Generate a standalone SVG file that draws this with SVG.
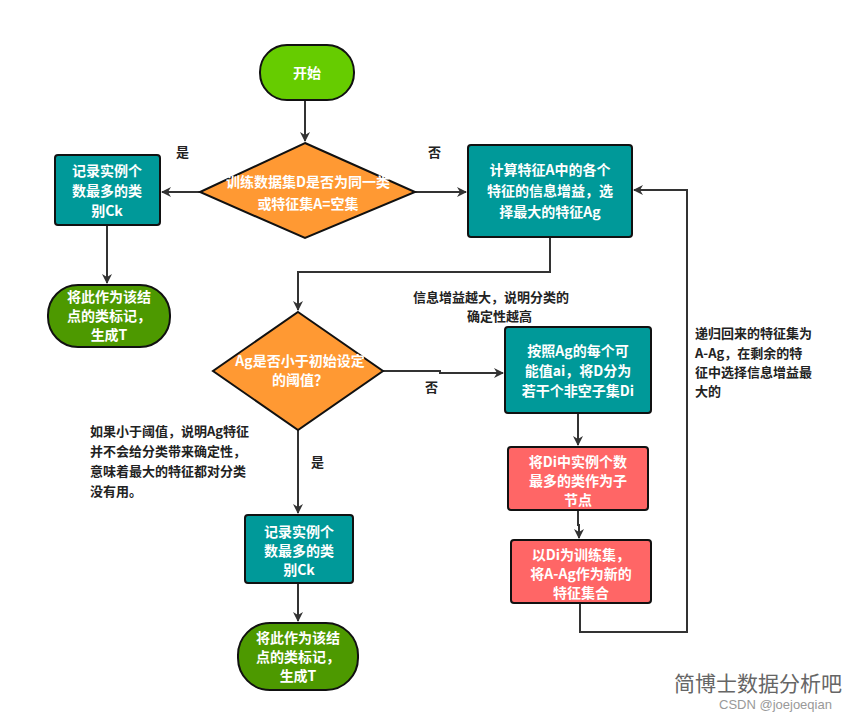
<svg xmlns="http://www.w3.org/2000/svg" width="868" height="720" viewBox="0 0 868 720">
<defs>
<marker id="ar" markerWidth="10" markerHeight="10" refX="9" refY="5" orient="auto" markerUnits="userSpaceOnUse"><path d="M0,0 L10,5 L0,10 L3,5 Z" fill="#333"/></marker>
<style>
.n{stroke:#111;stroke-width:2}
.t{fill:#fff;font-family:"Noto Sans CJK SC","Liberation Sans",sans-serif;font-weight:bold;font-size:14px;text-anchor:middle}
.l{fill:#222;font-family:"Noto Sans CJK SC","Liberation Sans",sans-serif;font-weight:bold;font-size:13px}
.c{fill:none;stroke:#333;stroke-width:2}
</style>
</defs>
<rect width="868" height="720" fill="#fff"/>
<g id="connectors">
<path class="c" d="M305,100 V141" marker-end="url(#ar)"/>
<path class="c" d="M200,192 H162" marker-end="url(#ar)"/>
<path class="c" d="M415,192 H466" marker-end="url(#ar)"/>
<path class="c" d="M107,225 V283" marker-end="url(#ar)"/>
<path class="c" d="M550,237 V272 H298 V310" marker-end="url(#ar)"/>
<path class="c" d="M383,371 H440 V373 H503" marker-end="url(#ar)"/>
<path class="c" d="M578,413 V445" marker-end="url(#ar)"/>
<path class="c" d="M578,510 V525 H579 V538" marker-end="url(#ar)"/>
<path class="c" d="M580,603 V632 H687 V190 H634" marker-end="url(#ar)"/>
<path class="c" d="M298,430 V513" marker-end="url(#ar)"/>
<path class="c" d="M298,583 V621" marker-end="url(#ar)"/>
</g>
<g id="start"><rect class="n" x="260" y="45" width="94" height="55" rx="27" fill="#66cc00"/><text class="t" x="307" y="78">开始</text></g>
<g id="d1"><polygon class="n" points="305,143 415,192 305,238 200,192" fill="#ff9933"/><text class="t" x="308" y="187" font-size="13.5">训练数据集D是否为同一类</text><text class="t" x="308" y="209">或特征集A=空集</text></g>
<g id="b1"><rect class="n" x="55" y="155" width="105" height="70" rx="3" fill="#009999"/><text class="t" x="107" y="176">记录实例个</text><text class="t" x="107" y="196">数最多的类</text><text class="t" x="107" y="216">别Ck</text></g>
<g id="b2"><rect class="n" x="468" y="145" width="164" height="92" rx="3" fill="#009999"/><text class="t" x="550" y="175">计算特征A中的各个</text><text class="t" x="550" y="196">特征的信息增益，选</text><text class="t" x="550" y="217">择最大的特征Ag</text></g>
<g id="e1"><rect class="n" x="48" y="285" width="122" height="62" rx="30" fill="#4d9900"/><text class="t" x="109" y="302">将此作为该结</text><text class="t" x="109" y="321">点的类标记，</text><text class="t" x="109" y="340">生成T</text></g>
<g id="d2"><polygon class="n" points="298,312 383,371 298,430 213,371" fill="#ff9933"/><text class="t" x="300" y="366">Ag是否小于初始设定</text><text class="t" x="300" y="385">的阈值？</text></g>
<g id="b3"><rect class="n" x="505" y="327" width="146" height="86" rx="3" fill="#009999"/><text class="t" x="578" y="356">按照Ag的每个可</text><text class="t" x="578" y="376">能值ai，将D分为</text><text class="t" x="578" y="396">若干个非空子集Di</text></g>
<g id="b4"><rect class="n" x="508" y="447" width="140" height="63" rx="3" fill="#ff6666"/><text class="t" x="578" y="467">将Di中实例个数</text><text class="t" x="578" y="486">最多的类作为子</text><text class="t" x="578" y="505">节点</text></g>
<g id="b5"><rect class="n" x="511" y="540" width="140" height="63" rx="3" fill="#ff6666"/><text class="t" x="581" y="560">以Di为训练集，</text><text class="t" x="581" y="579">将A-Ag作为新的</text><text class="t" x="581" y="598">特征集合</text></g>
<g id="b6"><rect class="n" x="245" y="515" width="108" height="68" rx="3" fill="#009999"/><text class="t" x="299" y="537">记录实例个</text><text class="t" x="299" y="556">数最多的类</text><text class="t" x="299" y="575">别Ck</text></g>
<g id="e2"><rect class="n" x="238" y="623" width="120" height="67" rx="32" fill="#4d9900"/><text class="t" x="298" y="643">将此作为该结</text><text class="t" x="298" y="662">点的类标记，</text><text class="t" x="298" y="681">生成T</text></g>
<g id="labels">
<text class="l" x="176" y="157">是</text>
<text class="l" x="428" y="157">否</text>
<text class="l" x="425" y="392">否</text>
<text class="l" x="311" y="467">是</text>
<text class="l" x="413" y="302">信息增益越大，说明分类的</text>
<text class="l" x="467" y="321">确定性越高</text>
<text class="l" x="695" y="338">递归回来的特征集为</text>
<text class="l" x="695" y="358">A-Ag，在剩余的特</text>
<text class="l" x="695" y="377">征中选择信息增益最</text>
<text class="l" x="695" y="396">大的</text>
<text class="l" x="90" y="436">如果小于阈值，说明Ag特征</text>
<text class="l" x="90" y="456">并不会给分类带来确定性，</text>
<text class="l" x="90" y="476">意味着最大的特征都对分类</text>
<text class="l" x="90" y="496">没有用。</text>
<text x="674" y="691" font-family="Noto Sans CJK SC,sans-serif" font-size="21" fill="#666">简博士数据分析吧</text>
<text x="719" y="709" font-family="Liberation Sans,sans-serif" font-size="13" fill="#999">CSDN @joejoeqian</text>
</g>
</svg>
